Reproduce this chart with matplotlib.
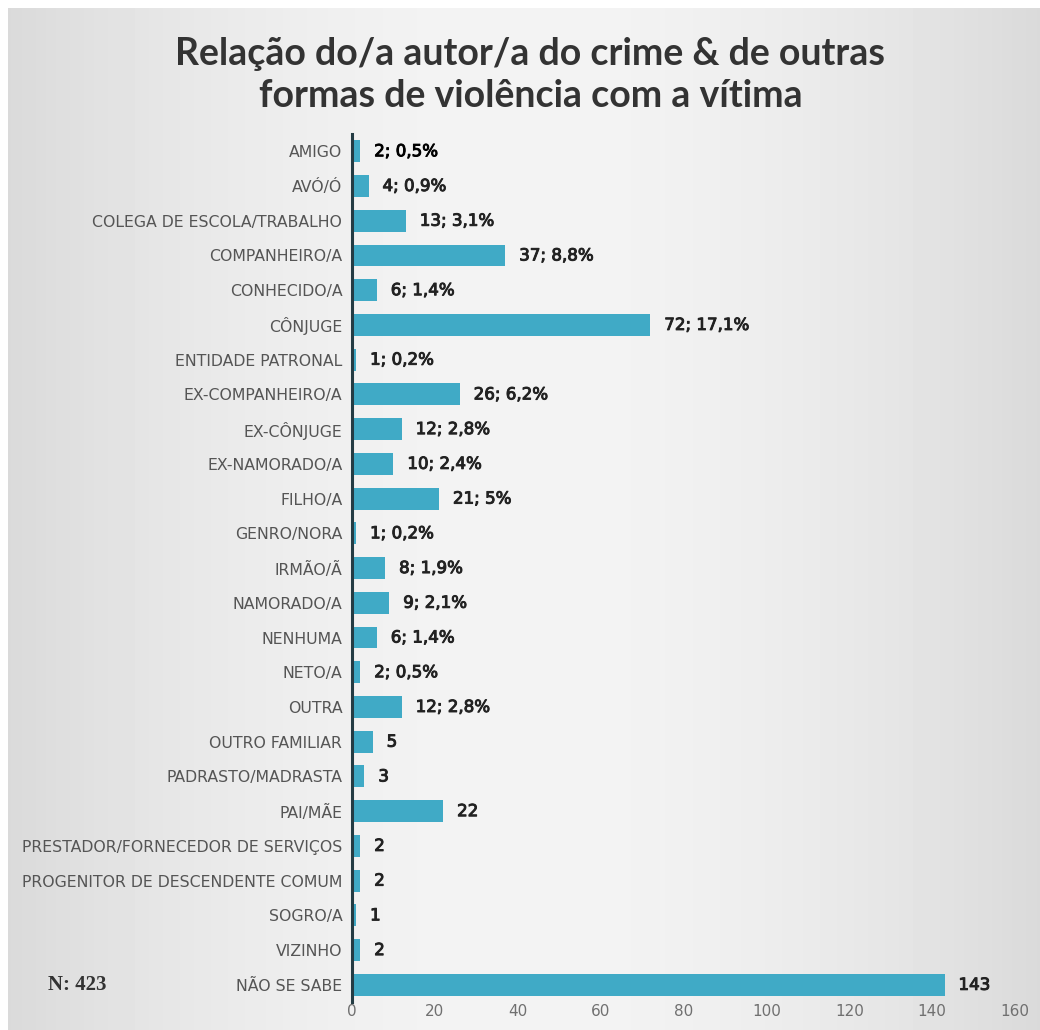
import numpy as np
import matplotlib.pyplot as plt
import matplotlib.patheffects as pe

categorias = ["AMIGO", "AVÓ/Ó", "COLEGA DE ESCOLA/TRABALHO", "COMPANHEIRO/A", "CONHECIDO/A",
              "CÔNJUGE", "ENTIDADE PATRONAL", "EX-COMPANHEIRO/A", "EX-CÔNJUGE", "EX-NAMORADO/A",
              "FILHO/A", "GENRO/NORA", "IRMÃO/Ã", "NAMORADO/A", "NENHUMA", "NETO/A", "OUTRA",
              "OUTRO FAMILIAR", "PADRASTO/MADRASTA", "PAI/MÃE",
              "PRESTADOR/FORNECEDOR DE SERVIÇOS", "PROGENITOR DE DESCENDENTE COMUM",
              "SOGRO/A", "VIZINHO", "NÃO SE SABE"]
valores = [2, 4, 13, 37, 6, 72, 1, 26, 12, 10, 21, 1, 8, 9, 6, 2, 12, 5, 3, 22, 2, 2, 1, 2, 143]
rotulos = ["2; 0,5%", "4; 0,9%", "13; 3,1%", "37; 8,8%", "6; 1,4%", "72; 17,1%", "1; 0,2%",
           "26; 6,2%", "12; 2,8%", "10; 2,4%", "21; 5%", "1; 0,2%", "8; 1,9%", "9; 2,1%",
           "6; 1,4%", "2; 0,5%", "12; 2,8%", "5", "3", "22", "2", "2", "1", "2", "143"]
ticks_x = [0, 20, 40, 60, 80, 100, 120, 140, 160]

narrow = ["Liberation Sans Narrow", "DejaVu Sans"]

fig = plt.figure(figsize=(10.4, 10.3), dpi=100)
fig.patch.set_facecolor("white")

# fundo cinzento com gradiente
bg = fig.add_axes([0.008, 0.0, 0.992, 0.992], zorder=0)
xx = np.linspace(-1, 1, 300)
grad = 0.955 - 0.10 * np.abs(xx) ** 1.8
bg.imshow(np.tile(grad, (50, 1)), cmap="gray", vmin=0, vmax=1, aspect="auto",
          extent=[0, 1, 0, 1])
bg.axis("off")

ax = fig.add_axes([0.3385, 0.027, 0.976 - 0.3385, 0.843], zorder=1)
ax.patch.set_alpha(0)
y = np.arange(len(categorias))
ax.barh(y, valores, height=0.63, color="#40aac6")
ax.set_ylim(len(categorias) - 0.5, -0.5)
ax.set_xlim(0, 160)
ax.set_yticks(y)
ax.set_yticklabels(categorias, family=narrow, fontsize=11.3, color="#555555")
ax.set_xticks(ticks_x)
ax.set_xticklabels([str(t) for t in ticks_x], fontsize=11, color="#707070", family=narrow)
ax.tick_params(axis="y", length=0, pad=7)
ax.tick_params(axis="x", length=0, pad=1)
for s in ["top", "right", "bottom"]:
    ax.spines[s].set_visible(False)
ax.spines["left"].set_color("#243c44")
ax.spines["left"].set_linewidth(2.2)

for i, (v, r) in enumerate(zip(valores, rotulos)):
    cor = "#000000" if i == 0 else "#222222"
    ax.annotate(r, (v, i), xytext=(10, 0), textcoords="offset points", va="center",
                ha="left", fontsize=12, color=cor, family=narrow,
                path_effects=[pe.withStroke(linewidth=0.7, foreground=cor)])

fig.text(0.51, 0.927, "Relação do/a autor/a do crime & de outras\nformas de violência com a vítima",
         ha="center", va="center", fontsize=27, fontweight="bold", color="#333333",
         linespacing=1.3, family=["Lato", "DejaVu Sans"])
fig.text(0.046, 0.044, "N: 423", fontsize=15, fontweight="bold", color="#333333",
         family=["Liberation Serif", "DejaVu Serif"], va="center")

fig.savefig("out.png", dpi=100)
